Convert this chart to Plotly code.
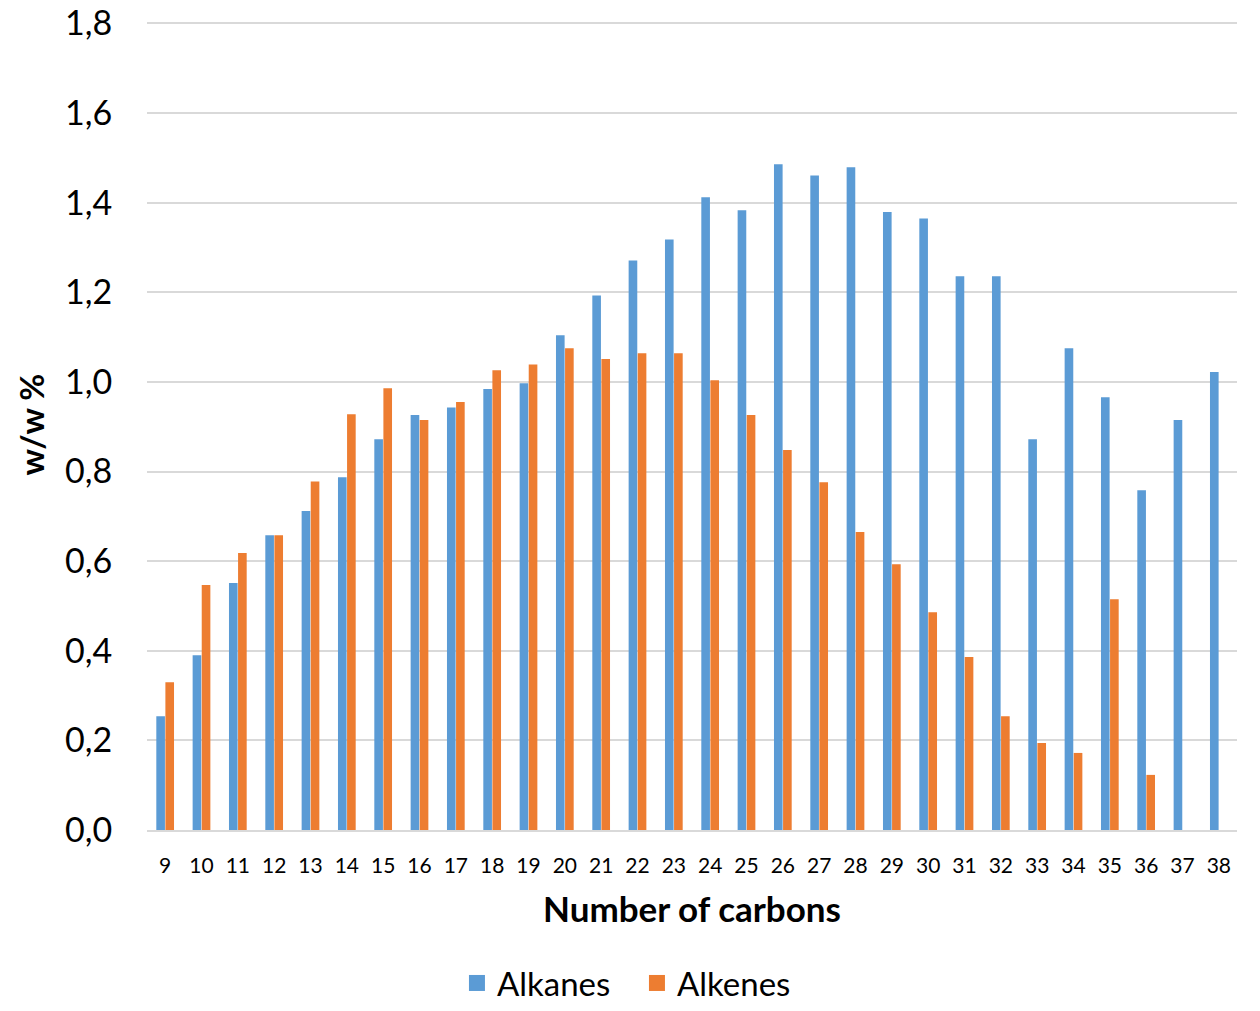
import plotly.graph_objects as go

carbons = [str(c) for c in range(9, 39)]
alkanes = [0.254, 0.390, 0.551, 0.658, 0.712, 0.787, 0.872, 0.926, 0.943, 0.984,
           0.997, 1.104, 1.193, 1.271, 1.318, 1.412, 1.383, 1.486, 1.461, 1.479,
           1.379, 1.365, 1.236, 1.236, 0.872, 1.075, 0.966, 0.758, 0.915, 1.022]
alkenes = [0.330, 0.547, 0.618, 0.658, 0.778, 0.928, 0.986, 0.915, 0.955, 1.026,
           1.039, 1.075, 1.051, 1.064, 1.064, 1.004, 0.926, 0.848, 0.776, 0.665,
           0.593, 0.486, 0.386, 0.254, 0.194, 0.172, 0.515, 0.123, None, None]
y_ticks = [0, 0.2, 0.4, 0.6, 0.8, 1.0, 1.2, 1.4, 1.6, 1.8]
y_labels = ["0,0", "0,2", "0,4", "0,6", "0,8", "1,0", "1,2", "1,4", "1,6", "1,8"]

FONT = "Lato"
BLUE = "#5B9BD5"
ORANGE = "#ED7D31"

fig = go.Figure()
fig.add_trace(go.Bar(x=carbons, y=alkanes, name="Alkanes", showlegend=False,
                     marker=dict(color=BLUE, line=dict(width=0))))
fig.add_trace(go.Bar(x=carbons, y=alkenes, name="Alkenes", showlegend=False,
                     marker=dict(color=ORANGE, line=dict(width=0))))
# legend entries with larger square swatches
for name, col in [("Alkanes", BLUE), ("Alkenes", ORANGE)]:
    fig.add_trace(go.Scatter(x=[None], y=[None], mode="markers", name=name,
                             marker=dict(symbol="square", size=20, color=col)))

fig.update_layout(
    width=1260, height=1011,
    margin=dict(l=147, r=23, t=19, b=181, autoexpand=False),
    plot_bgcolor="white", paper_bgcolor="white",
    barmode="group", bargap=0.5, bargroupgap=0.05,
    font=dict(family=FONT, color="black"),
    xaxis=dict(
        type="category",
        tickfont=dict(size=21, family=FONT),
        showgrid=False,
        showline=True, linecolor="#d9d9d9", linewidth=2,
        ticks="outside", ticklen=16, tickcolor="white",
        automargin=False,
        title=dict(text="<b>Number of carbons</b>", font=dict(size=35, family=FONT), standoff=21),
    ),
    yaxis=dict(
        range=[0, 1.81],
        tickvals=y_ticks, ticktext=y_labels,
        tickfont=dict(size=34, family=FONT),
        showgrid=True, gridcolor="#d9d9d9", gridwidth=2,
        zeroline=False,
        ticks="outside", ticklen=27, tickcolor="white",
        automargin=False,
        title=dict(text="<b>w/w %</b>", font=dict(size=33, family=FONT), standoff=10),
    ),
    legend=dict(
        orientation="h", x=0.4495, xanchor="center", y=-0.2232, yanchor="bottom",
        font=dict(size=33, family=FONT),
        itemwidth=30, entrywidth=135, entrywidthmode="pixels",
        traceorder="normal",
    ),
)

fig.write_html("out.html")
